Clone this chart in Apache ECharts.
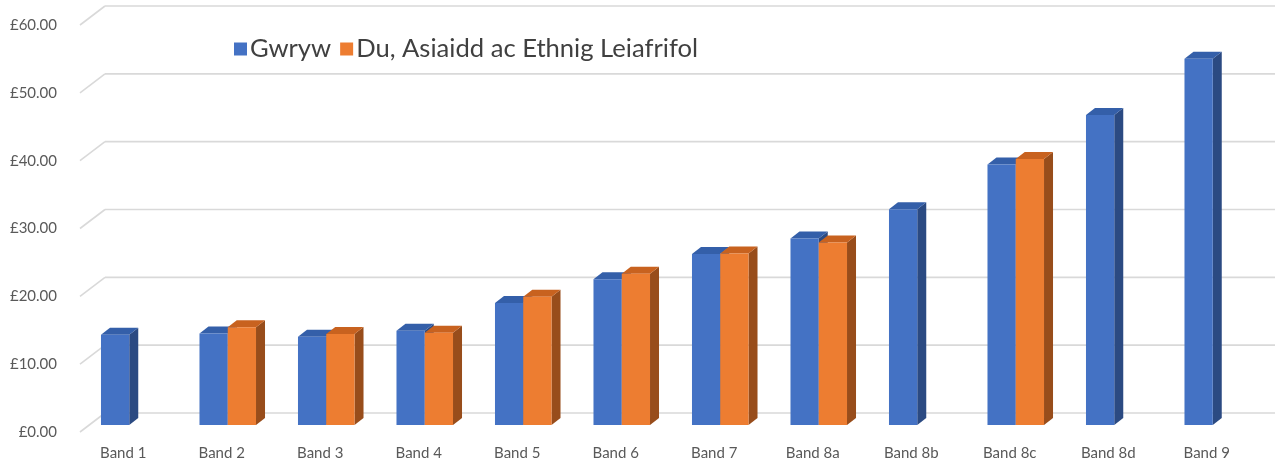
<!DOCTYPE html>
<html>
<head>
<meta charset="utf-8">
<script src="https://cdn.jsdelivr.net/npm/echarts@6/dist/echarts.min.js"></script>
<style>
  html, body { margin: 0; padding: 0; background: #ffffff; }
  #chart { width: 1275px; height: 462px; }
</style>
</head>
<body>
<div id="chart"></div>
<script>
// Hourly pay by band
const categories = ['Band 1', 'Band 2', 'Band 3', 'Band 4', 'Band 5', 'Band 6',
                    'Band 7', 'Band 8a', 'Band 8b', 'Band 8c', 'Band 8d', 'Band 9'];
const gwryw = [13.3, 13.5, 13.0, 13.9, 18.0, 21.5, 25.2, 27.5, 31.8, 38.4, 45.7, 54.0];
const dual = [null, 14.4, 13.4, 13.6, 18.9, 22.3, 25.3, 26.9, null, 39.2, null, null];
const yTicks = [0, 10, 20, 30, 40, 50, 60];

const seriesNames = ['Gwryw', 'Du, Asiaidd ac Ethnig Leiafrifol'];
const palette = [
  { front: '#4472c4', top: '#345fa9', side: '#2b4a82' },
  { front: '#ed7d31', top: '#c8621f', side: '#984d1b' }
];

// 3D look: depth of each column and position of the back wall
const DEPTH_X = 9, DEPTH_Y = 7;
const FACE_LIFT = 7;      // column front face sits slightly behind the floor edge
const WALL_X = 25, WALL_Y = 19;

function columnRenderer(slot, colors) {
  return function (params, api) {
    const v = api.value(1);
    if (v == null || isNaN(v)) return;
    const top = api.coord([api.value(0), v]);
    const base = api.coord([api.value(0), 0]);
    const band = api.size([1, 0])[0];
    const w = band * 0.287;
    const x0 = top[0] - 8 + (slot === 0 ? -w : 0);
    const x1 = x0 + w;
    const yt = top[1] - FACE_LIFT;
    const yb = base[1] - FACE_LIFT;
    return {
      type: 'group',
      children: [
        { type: 'polygon', shape: { points: [[x1, yt], [x1 + DEPTH_X, yt - DEPTH_Y], [x1 + DEPTH_X, yb - DEPTH_Y], [x1, yb]] },
          style: { fill: colors.side } },
        { type: 'polygon', shape: { points: [[x0, yt], [x1, yt], [x1 + DEPTH_X, yt - DEPTH_Y], [x0 + DEPTH_X, yt - DEPTH_Y]] },
          style: { fill: colors.top } },
        { type: 'rect', shape: { x: x0, y: yt, width: w, height: yb - yt },
          style: { fill: colors.front } }
      ]
    };
  };
}

function wallRenderer(params, api) {
  const p = api.coord([0, api.value(1)]);
  const cs = params.coordSys;
  const xf = cs.x - 8;
  const xb = xf + WALL_X;
  const y = p[1];
  const style = { stroke: '#d9d9d9', lineWidth: 1.6 };
  return {
    type: 'group',
    children: [
      { type: 'line', shape: { x1: xf, y1: y, x2: xb, y2: y - WALL_Y }, style: style },
      { type: 'line', shape: { x1: xb, y1: y - WALL_Y, x2: cs.x + cs.width + 10, y2: y - WALL_Y }, style: style }
    ]
  };
}

const chart = echarts.init(document.getElementById('chart'), null, { renderer: 'canvas' });
chart.setOption({
  animation: false,
  backgroundColor: '#ffffff',
  grid: { left: 88, right: 5, top: 25, bottom: 30 },
  legend: {
    data: seriesNames,
    left: 229, top: 31,
    itemWidth: 13, itemHeight: 13, itemGap: 9,
    icon: 'rect',
    textStyle: { fontFamily: 'Lato', fontSize: 25.6, color: '#404040', padding: [0, 0, 0, -2] }
  },
  xAxis: {
    type: 'category',
    data: categories,
    axisLine: { show: false },
    axisTick: { show: false },
    axisLabel: { fontFamily: 'Lato', fontSize: 15, color: '#595959', margin: 14, padding: [0, 28, 0, 0] }
  },
  yAxis: {
    type: 'value',
    min: 0, max: 60, interval: 10,
    axisLine: { show: false },
    axisTick: { show: false },
    splitLine: { show: false },
    axisLabel: {
      fontFamily: 'Lato', fontSize: 15, color: '#595959', margin: 31,
      formatter: v => '£' + v.toFixed(2)
    }
  },
  series: [
    {
      type: 'custom', name: '_wall', silent: true, z: 1,
      renderItem: wallRenderer,
      encode: { x: 0, y: 1 },
      data: yTicks.map(v => [0, v])
    },
    {
      type: 'custom', name: seriesNames[0], z: 2,
      itemStyle: { color: palette[0].front },
      renderItem: columnRenderer(0, palette[0]),
      encode: { x: 0, y: 1 },
      data: gwryw.map((v, i) => [i, v])
    },
    {
      type: 'custom', name: seriesNames[1], z: 3,
      itemStyle: { color: palette[1].front },
      renderItem: columnRenderer(1, palette[1]),
      encode: { x: 0, y: 1 },
      data: dual.map((v, i) => [i, v])
    }
  ]
});
</script>
</body>
</html>
